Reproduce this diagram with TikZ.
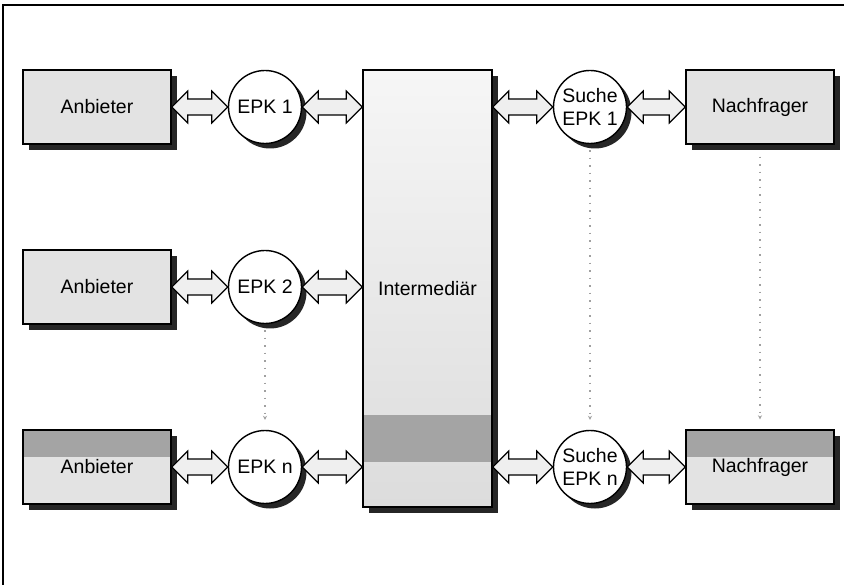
\documentclass[tikz,border=0pt]{standalone}
\usepackage{fontspec}
\setmainfont{Liberation Sans}
\usetikzlibrary{calc,arrows.meta,shadows}
\definecolor{boxfill}{HTML}{E3E3E3}
\definecolor{darkband}{HTML}{A4A4A4}
\definecolor{arrowfill}{HTML}{EFEFEF}
\definecolor{imtop}{HTML}{F6F6F6}
\definecolor{imbot}{HTML}{DCDCDC}
\definecolor{dotgray}{HTML}{A0A0A0}
\tikzset{
  every node/.style={font=\fontsize{19.5}{23}\selectfont},
  boxshadow/.style={drop shadow={shadow xshift=6pt, shadow yshift=-6pt, fill=black!85, opacity=1}},
  circshadow/.style={drop shadow={shadow xshift=5pt, shadow yshift=-5pt, fill=black!85, opacity=1}},
  partybox/.style={draw=black, line width=1.4pt, fill=boxfill, minimum width=148pt,
    minimum height=74pt, inner sep=0pt, boxshadow},
  bandbox/.style={partybox, path picture={\fill[darkband] (path picture bounding box.north west)
    rectangle ($(path picture bounding box.north east)+(0,-27pt)$);}},
  epk/.style={circle, draw=black, line width=1.4pt, fill=white, minimum size=73pt,
    inner sep=0pt, align=center, circshadow},
  interbox/.style={draw=black, line width=1.4pt, top color=imtop, bottom color=imbot,
    minimum width=129pt, minimum height=437pt, inner sep=0pt, boxshadow,
    path picture={\fill[darkband] ($(path picture bounding box.north west)+(0,-345pt)$)
    rectangle ($(path picture bounding box.north east)+(0,-392pt)$);}},
  fat/.style={draw=black, line width=1.2pt, fill=arrowfill, line join=miter},
  dotline/.style={draw=dotgray, line width=1.5pt, dash pattern=on 1.5pt off 6pt,
    -{Stealth[length=4pt,width=4pt]}, shorten <=6pt, shorten >=10pt},
  frameline/.style={line width=1.5pt, draw=black}
}
\newcommand\fatarrow[2]{%
  \draw[fat] let \p1=(#1), \p2=(#2) in
    (\x1,\y1) -- (\x1+16pt,\y1+16pt) -- (\x1+16pt,\y1+8pt) -- (\x2-16pt,\y1+8pt)
    -- (\x2-16pt,\y1+16pt) -- (\x2,\y1) -- (\x2-16pt,\y1-16pt) -- (\x2-16pt,\y1-8pt)
    -- (\x1+16pt,\y1-8pt) -- (\x1+16pt,\y1-16pt) -- cycle;}
\begin{document}
\begin{tikzpicture}[x=1pt,y=-1pt]
\useasboundingbox (0,0) rectangle (844,585);
\fill[white] (0,0) rectangle (844,585);
\draw[frameline] (3,585) -- (3,5) -- (844,5);

% row 1
\node[partybox] (a1) at (97,107) {Anbieter};
\node[epk] (e1) at (265,107) {EPK 1};
\node[epk] (s1) at (590,107) {Suche\\EPK 1};
\node[partybox] (n1) at (760,107) {Nachfrager};
% row 2
\node[partybox] (a2) at (97,287) {Anbieter};
\node[epk] (e2) at (265,287) {EPK 2};
% row 3
\node[bandbox] (a3) at (97,467) {Anbieter};
\node[epk] (e3) at (265,467) {EPK n};
\node[epk] (s3) at (590,467) {Suche\\EPK n};
\node[bandbox] (n3) at (760,467) {Nachfrager};
% intermediary
\node[interbox] (im) at (427.5,288.5) {Intermediär};

% arrows
\fatarrow{a1.east}{e1.west}
\fatarrow{e1.east}{im.west}
\fatarrow{im.east |- s1.west}{s1.west}
\fatarrow{s1.east}{n1.west}
\fatarrow{a2.east}{e2.west}
\fatarrow{e2.east}{im.west}
\fatarrow{a3.east}{e3.west}
\fatarrow{e3.east}{im.west}
\fatarrow{im.east |- s3.west}{s3.west}
\fatarrow{s3.east}{n3.west}

% dotted links
\draw[dotline] (e2.south) -- (e3.north);
\draw[dotline] (s1.south) -- (s3.north);
\draw[dotline] ([yshift=-6pt]n1.south) -- (n3.north);
\end{tikzpicture}
\end{document}
